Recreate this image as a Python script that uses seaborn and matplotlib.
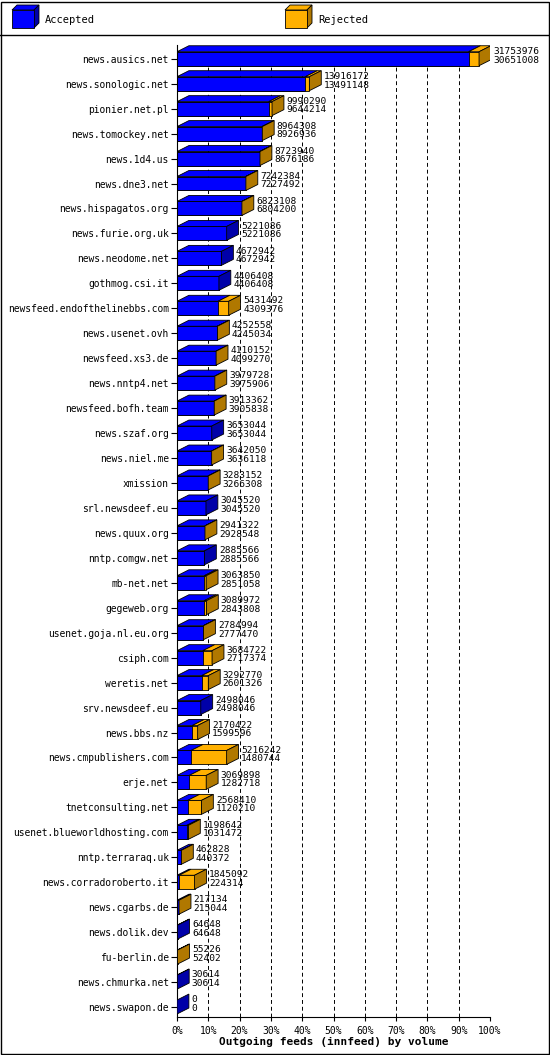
import numpy as np
import pandas as pd
import matplotlib
matplotlib.use("Agg")
import matplotlib.pyplot as plt
import seaborn as sns
from matplotlib.patches import Polygon, Rectangle

# --- data ---
feeds = ["news.ausics.net", "news.sonologic.net", "pionier.net.pl", "news.tomockey.net",
         "news.1d4.us", "news.dne3.net", "news.hispagatos.org", "news.furie.org.uk",
         "news.neodome.net", "gothmog.csi.it", "newsfeed.endofthelinebbs.com",
         "news.usenet.ovh", "newsfeed.xs3.de", "news.nntp4.net", "newsfeed.bofh.team",
         "news.szaf.org", "news.niel.me", "xmission", "srl.newsdeef.eu", "news.quux.org",
         "nntp.comgw.net", "mb-net.net", "gegeweb.org", "usenet.goja.nl.eu.org",
         "csiph.com", "weretis.net", "srv.newsdeef.eu", "news.bbs.nz",
         "news.cmpublishers.com", "erje.net", "tnetconsulting.net",
         "usenet.blueworldhosting.com", "nntp.terraraq.uk", "news.corradoroberto.it",
         "news.cgarbs.de", "news.dolik.dev", "fu-berlin.de", "news.chmurka.net",
         "news.swapon.de"]
offered = [31753976, 13916172, 9990290, 8964308, 8723940, 7242384, 6823108, 5221086,
           4672942, 4406408, 5431492, 4252558, 4110152, 3979728, 3913362, 3653044,
           3642050, 3283152, 3045520, 2941322, 2885566, 3063850, 3089972, 2784994,
           3684722, 3292770, 2498046, 2170422, 5216242, 3069898, 2568410, 1198642,
           462828, 1845092, 217134, 64648, 55226, 30614, 0]
accepted = [30651008, 13491148, 9644214, 8926936, 8676186, 7227492, 6804200, 5221086,
            4672942, 4406408, 4309376, 4245034, 4099270, 3975906, 3905838, 3653044,
            3636118, 3266308, 3045520, 2928548, 2885566, 2851058, 2843808, 2777470,
            2717374, 2601326, 2498046, 1599596, 1480744, 1282718, 1120210, 1031472,
            440372, 224314, 215044, 64648, 52402, 30614, 0]

BLUE, BLUE_D = "#0000ff", "#0000a8"
ORANGE, ORANGE_D = "#ffb000", "#b07800"

scale = 0.965 / max(offered)
df = pd.DataFrame({"feed": feeds,
                   "tot": np.array(offered) * scale,
                   "acc": np.array(accepted) * scale})

plt.rcParams["font.family"] = ["DejaVu Sans Mono"]
fig = plt.figure(figsize=(5.5, 10.55), dpi=100)
ax = fig.add_axes([177 / 550, 1 - 1017 / 1055, 313 / 550, (1017 - 45) / 1055])

H = 0.28
sns.barplot(data=df, x="tot", y="feed", orient="h", color=ORANGE, width=2 * H,
            saturation=1, edgecolor="black", linewidth=0.6, ax=ax)
sns.barplot(data=df, x="acc", y="feed", orient="h", color=BLUE, width=2 * H,
            saturation=1, edgecolor="black", linewidth=0.6, ax=ax)

dx, dy = 0.038, 0.24
for i, (t, a) in enumerate(zip(df["tot"], df["acc"])):
    top = i - H
    for x0, x1, c in [(0, a, BLUE), (a, t, ORANGE)]:
        if x1 > x0:
            ax.add_patch(Polygon([(x0, top), (x1, top), (x1 + dx, top - dy), (x0 + dx, top - dy)],
                                 facecolor=c, edgecolor="black", lw=0.6, zorder=3))
    side = BLUE_D if t - a < 1e-9 else ORANGE_D
    ax.add_patch(Polygon([(t, top), (t + dx, top - dy), (t + dx, i + H - dy), (t, i + H)],
                         facecolor=side, edgecolor="black", lw=0.6, zorder=3))
    ax.text(t + dx + 0.008, i - 0.12, f"{offered[i]}\n{accepted[i]}", fontsize=6.8,
            va="center", ha="left", linespacing=0.95, zorder=4)

ticks = np.linspace(0, 1, 11)
for x in ticks[1:]:
    ax.axvline(x, color="black", ls=(0, (4, 3)), lw=0.7, zorder=0)
ax.set_xlim(0, 1)
ax.set_ylim(len(feeds) - 0.6, -0.55)
ax.set_xticks(ticks)
ax.set_xticklabels([f"{int(round(v * 100))}%" for v in ticks], fontsize=7)
ax.tick_params(axis="y", labelsize=6.9, length=4, pad=2)
ax.tick_params(axis="x", length=3)
ax.set_ylabel("")
ax.set_xlabel("Outgoing feeds (innfeed) by volume", fontsize=8, fontweight="bold", labelpad=1)
for s in ["top", "right"]:
    ax.spines[s].set_visible(False)

# legend strip and frame
fig.patches.append(Rectangle((0.002, 0.001), 0.996, 0.997, transform=fig.transFigure,
                             fill=False, edgecolor="black", lw=1))
fig.lines.append(plt.Line2D([0, 1], [1 - 35 / 1055] * 2, transform=fig.transFigure,
                            color="black", lw=1))
for x0, c, cd, lab in [(12, BLUE, BLUE_D, "Accepted"), (285, ORANGE, ORANGE_D, "Rejected")]:
    fx, fy, w, h = x0 / 550, 1 - 28 / 1055, 22 / 550, 18 / 1055
    ddx, ddy = 5 / 550, 5 / 1055
    fig.patches.append(Polygon([(fx, fy + h), (fx + w, fy + h), (fx + w + ddx, fy + h + ddy),
                                (fx + ddx, fy + h + ddy)], closed=True, transform=fig.transFigure,
                               facecolor=c, edgecolor="black", lw=0.6))
    fig.patches.append(Polygon([(fx + w, fy), (fx + w + ddx, fy + ddy), (fx + w + ddx, fy + h + ddy),
                                (fx + w, fy + h)], closed=True, transform=fig.transFigure,
                               facecolor=cd, edgecolor="black", lw=0.6))
    fig.patches.append(Rectangle((fx, fy), w, h, transform=fig.transFigure,
                                 facecolor=c, edgecolor="black", lw=0.6))
    fig.text((x0 + 33) / 550, 1 - 20 / 1055, lab, fontsize=7.5, va="center")

fig.savefig("out.png", dpi=100)
